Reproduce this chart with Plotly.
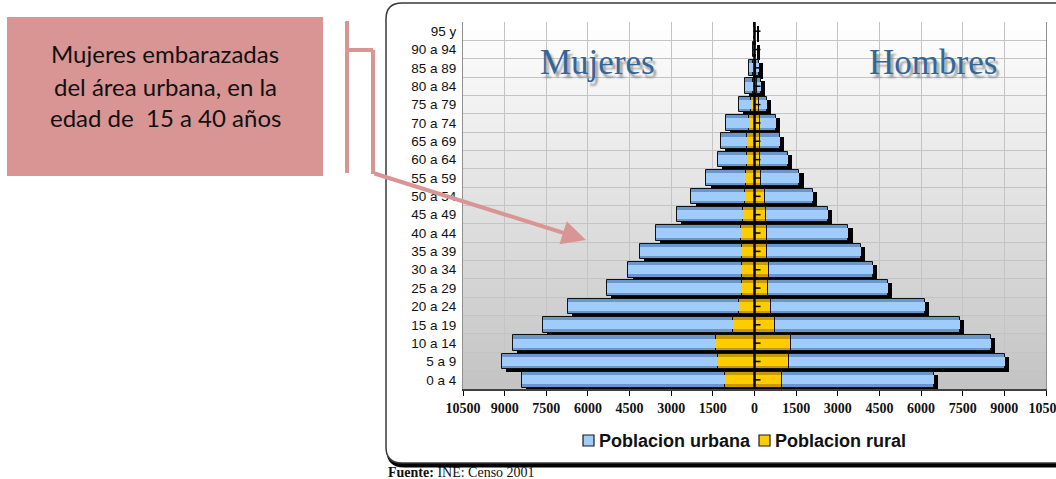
import plotly.graph_objects as go

# age groups, bottom to top
grupos = ["0 a 4", "5 a 9", "10 a 14", "15 a 19", "20 a 24", "25 a 29", "30 a 34",
          "35 a 39", "40 a 44", "45 a 49", "50 a 54", "55 a 59", "60 a 64", "65 a 69",
          "70 a 74", "75 a 79", "80 a 84", "85 a 89", "90 a 94", "95 y"]

# women (drawn to the left)
mujeres_urbana = [7330, 7800, 7300, 6820, 6175, 4885, 4095, 3675, 3060, 2390,
                  1915, 1435, 1055, 955, 810, 445, 290, 165, 45, 17]
mujeres_rural = [1060, 1310, 1390, 790, 555, 445, 445, 445, 480, 410,
                 360, 300, 265, 265, 205, 120, 70, 40, 15, 8]

# men (drawn to the right)
hombres_urbana = [5475, 7765, 7220, 6675, 5555, 4345, 3745, 3375, 2920, 2235,
                  1705, 1370, 985, 710, 580, 295, 136, 115, 35, 12]
hombres_rural = [1000, 1255, 1305, 725, 585, 475, 510, 460, 460, 415,
                 395, 250, 215, 215, 180, 150, 80, 40, 15, 8]

x_ticks = list(range(-10500, 10501, 1500))

W, H = 1056, 479
ML, MR, MT, MB = 463, 10, 22, 90
PW, PH = W - ML - MR, H - MT - MB


def fx(p):
    return (p - ML) / PW


def fy(p):
    return (H - MB - p) / PH


ypos = list(range(len(grupos)))
BAR_W = 0.85
INNER_W = 0.5
BLUE_DARK, BLUE_LIGHT = "#6a96cc", "#a0ccfb"
GOLD_DARK, GOLD_LIGHT = "#c99a00", "#ffcc00"
EDGE = dict(color="#111111", width=1)

fig = go.Figure()

# drop shadow behind every row (offset a few px right and down)
shift_x = 150
shift_y = 0.165
m_tot = [u + r for u, r in zip(mujeres_urbana, mujeres_rural)]
h_tot = [u + r for u, r in zip(hombres_urbana, hombres_rural)]
fig.add_trace(go.Bar(
    y=ypos, x=[a + b for a, b in zip(m_tot, h_tot)], base=[shift_x - a for a in m_tot],
    orientation="h", width=BAR_W, offset=-BAR_W / 2 - shift_y,
    marker=dict(color="#000000", line=dict(width=0)),
    showlegend=False, hoverinfo="skip"
))


def add_side(urb, rur, sign):
    neg_r = [sign * v for v in rur]
    neg_u = [sign * v for v in urb]
    # rural, next to the centre
    fig.add_trace(go.Bar(
        y=ypos, x=neg_r, base=[0] * len(rur), orientation="h", width=BAR_W,
        marker=dict(color=GOLD_DARK, line=EDGE), name="Poblacion rural"
    ))
    fig.add_trace(go.Bar(
        y=ypos, x=neg_r, base=[0] * len(rur), orientation="h", width=INNER_W,
        marker=dict(color=GOLD_LIGHT, line=dict(width=0)), hoverinfo="skip"
    ))
    # urban, outside
    fig.add_trace(go.Bar(
        y=ypos, x=neg_u, base=neg_r, orientation="h", width=BAR_W,
        marker=dict(color=BLUE_DARK, line=EDGE), name="Poblacion urbana"
    ))
    fig.add_trace(go.Bar(
        y=ypos, x=neg_u, base=neg_r, orientation="h", width=INNER_W,
        marker=dict(color=BLUE_LIGHT, line=dict(width=0)), hoverinfo="skip"
    ))


add_side(mujeres_urbana, mujeres_rural, -1)
add_side(hombres_urbana, hombres_rural, 1)

# little tick dashes on the centre axis
fig.add_trace(go.Scatter(
    x=[90] * len(ypos), y=ypos, mode="markers",
    marker=dict(symbol="line-ew", size=5, line=dict(color="#000000", width=1.5)),
    hoverinfo="skip"
))

shapes = []


# chart frame: shadow then rounded box
def rounded(x0, y0, x1, y1, r):
    return (f"M {fx(x0 + r)},{fy(y0)} L {fx(x1 - r)},{fy(y0)} "
            f"Q {fx(x1)},{fy(y0)} {fx(x1)},{fy(y0 + r)} L {fx(x1)},{fy(y1 - r)} "
            f"Q {fx(x1)},{fy(y1)} {fx(x1 - r)},{fy(y1)} L {fx(x0 + r)},{fy(y1)} "
            f"Q {fx(x0)},{fy(y1)} {fx(x0)},{fy(y1 - r)} L {fx(x0)},{fy(y0 + r)} "
            f"Q {fx(x0)},{fy(y0)} {fx(x0 + r)},{fy(y0)} Z")


shapes.append(dict(type="path", path=rounded(388, 6, 1080, 466, 16), xref="paper", yref="paper",
                   line=dict(color="#000000", width=3), fillcolor="#000000", layer="below"))
shapes.append(dict(type="path", path=rounded(386, 3, 1078, 463, 16), xref="paper", yref="paper",
                   line=dict(color="#3a3a3a", width=1.5), fillcolor="#ffffff", layer="below"))

# plot-area gradient (white -> grey)
n_bands = 40
for i in range(n_bands):
    t = i / (n_bands - 1)
    g = int(255 - t * (255 - 196))
    shapes.append(dict(type="rect", xref="paper", yref="paper", x0=0, x1=1,
                       y0=1 - (i + 1) / n_bands, y1=1 - i / n_bands + 0.002,
                       line=dict(width=0), fillcolor=f"rgb({g},{g},{g})", layer="below"))

# centre line
shapes.append(dict(type="line", xref="x", yref="paper", x0=0, x1=0, y0=0, y1=1,
                   line=dict(color="#000000", width=2.5), layer="above"))

# callout box and connector
PINK = "#d99594"
shapes.append(dict(type="rect", xref="paper", yref="paper", x0=fx(7), x1=fx(323),
                   y0=fy(176), y1=fy(17), fillcolor=PINK, line=dict(width=0), layer="above"))
for (xa, ya, xb, yb) in [(347, 21, 347, 173), (347, 50, 373, 50), (373, 50, 373, 174)]:
    shapes.append(dict(type="line", xref="paper", yref="paper", x0=fx(xa), y0=fy(ya),
                       x1=fx(xb), y1=fy(yb), line=dict(color=PINK, width=4), layer="above"))

# hand-made legend (square swatches right next to the text)
legend_items = [("Poblacion urbana", BLUE_LIGHT, 583), ("Poblacion rural", GOLD_LIGHT, 759)]
for _, col, sx in legend_items:
    shapes.append(dict(type="rect", xref="paper", yref="paper", x0=fx(sx), x1=fx(sx + 11),
                       y0=fy(446), y1=fy(435), fillcolor=col,
                       line=dict(color="#1a1a1a", width=1.2), layer="above"))

annotations = []
for txt, _, sx in legend_items:
    annotations.append(dict(text=txt, x=fx(sx + 14), y=fy(440.5), xref="paper", yref="paper",
                            xanchor="left", yanchor="middle", showarrow=False,
                            font=dict(family="Liberation Sans, Arial", size=18,
                                      color="#111111", weight="bold")))

for txt, yy in [("Mujeres embarazadas", 53), ("del área urbana, en la", 86),
                ("edad de  15 a 40 años", 118)]:
    annotations.append(dict(text=txt, x=fx(165), y=fy(yy), xref="paper", yref="paper",
                            xanchor="center", yanchor="middle", showarrow=False,
                            font=dict(family="Lato, Open Sans", size=24, color="#111111")))

annotations.append(dict(text="", x=fx(586), y=fy(240), xref="paper", yref="paper",
                        ax=373 - 586, ay=173 - 240, showarrow=True, arrowhead=2,
                        arrowsize=1.2, arrowwidth=4, arrowcolor=PINK, standoff=0))

# WordArt-like titles with grey shadow
for txt, cx, cy in [("Mujeres", 597, 62), ("Hombres", 933, 63)]:
    annotations.append(dict(text=txt, x=fx(cx), y=fy(cy), xref="paper", yref="paper",
                            showarrow=False, xanchor="center", yanchor="middle",
                            font=dict(family="Liberation Serif", size=35, color="#336699",
                                      shadow="3px 4px 2px rgba(110,110,110,0.6)")))

annotations.append(dict(text="<b>Fuente:</b> INE: Censo 2001", x=fx(386), y=fy(482),
                        xref="paper", yref="paper", xanchor="left", yanchor="bottom",
                        showarrow=False,
                        font=dict(family="Liberation Serif", size=14, color="#111111")))

fig.update_layout(
    width=W, height=H,
    margin=dict(l=ML, r=MR, t=MT, b=MB),
    paper_bgcolor="#ffffff",
    plot_bgcolor="rgba(0,0,0,0)",
    barmode="overlay",
    bargap=0,
    shapes=shapes,
    annotations=annotations,
    showlegend=False,
    xaxis=dict(range=[-10500, 10500], tickmode="array", tickvals=x_ticks,
               ticktext=[str(abs(v)) for v in x_ticks], automargin=False,
               showgrid=True, gridcolor="#c4c4c4", gridwidth=1, zeroline=False,
               ticks="outside", ticklen=5, tickcolor="#000000",
               showline=True, linecolor="#404040", linewidth=1.5,
               ticklabeloverflow="allow",
               tickfont=dict(family="Liberation Serif", size=14, color="#111111", weight="bold")),
    yaxis=dict(range=[-0.5, len(grupos) - 0.5], tickmode="array", tickvals=ypos, ticktext=grupos,
               automargin=False, showgrid=False, zeroline=False, ticks="",
               ticklabelstandoff=3,
               showline=True, linecolor="#909090", linewidth=1, mirror=True,
               minor=dict(tickmode="linear", tick0=-0.5, dtick=1, showgrid=True,
                          gridcolor="#c4c4c4", gridwidth=1),
               tickfont=dict(family="Liberation Sans, Arial", size=13.5, color="#111111")),
)

# the page's default body margin would shift the whole figure by 8 px
fig.write_html("out.html", config={"displayModeBar": False},
               post_script="document.body.style.margin='0';")
